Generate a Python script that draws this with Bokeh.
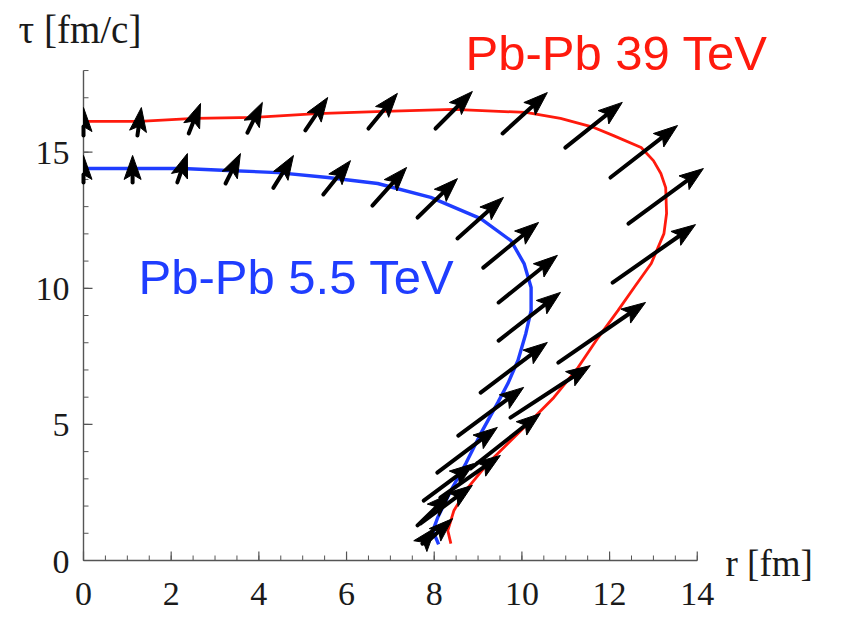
import numpy as np
from bokeh.plotting import figure
from bokeh.models import Range1d, Label
from bokeh.core.properties import value
from bokeh.embed import file_html
from bokeh.resources import INLINE

# ---------------- data ----------------
# freeze-out curves: r [fm], tau [fm/c]
red_r = [0, 1.28, 2.53, 3.90, 5.32, 6.85, 8.45, 10.09, 10.88, 11.64, 12.09, 12.72, 13.0, 13.17,
         13.28, 13.30, 13.24, 12.95, 12.56, 12.19, 11.74, 11.28, 10.73, 10.21, 9.68, 9.22, 8.77,
         8.45, 8.31, 8.38]
red_tau = [16.13, 16.13, 16.24, 16.28, 16.42, 16.50, 16.57, 16.46, 16.24, 15.91, 15.61, 15.17, 14.69,
           14.22, 13.70, 12.75, 12.01, 10.91, 10.03, 9.18, 8.19, 7.09, 5.99, 5.14, 4.30, 3.56, 2.68,
           1.84, 1.10, 0.62]

blue_r = [0, 1.12, 2.26, 3.29, 4.43, 5.57, 6.71, 7.92, 9.06, 9.75, 10.05, 10.21, 10.21, 10.09,
          9.91, 9.68, 9.45, 9.06, 8.72, 8.38, 8.08, 7.97, 8.10]
blue_tau = [14.40, 14.40, 14.40, 14.33, 14.25, 14.07, 13.85, 13.34, 12.56, 11.75, 10.91, 10.03,
            9.18, 8.34, 7.35, 6.50, 5.80, 4.66, 3.56, 2.57, 1.58, 1.10, 0.59]

# flow arrows: tail and tip positions
red_tail_r = [0, 1.23, 2.40, 3.74, 5.06, 6.50, 8.03, 9.56, 10.99, 12.02, 12.43, 12.07, 10.83, 9.74,
              8.83, 8.14, 7.69, 7.80]
red_tail_tau = [15.61, 15.61, 15.69, 15.72, 15.80, 15.87, 15.87, 15.69, 15.17, 14.07, 12.38, 10.21,
                7.27, 5.25, 3.38, 2.31, 1.36, 0.62]
red_tip_r = [0, 1.32, 2.67, 4.08, 5.57, 7.16, 8.87, 10.58, 12.29, 13.55, 14.14, 13.96, 12.82, 11.56,
             10.42, 9.51, 8.87, 8.42]
red_tip_tau = [16.64, 16.64, 16.79, 16.83, 17.01, 17.16, 17.23, 17.19, 16.83, 15.98, 14.40, 12.34,
               9.48, 7.16, 5.40, 3.86, 2.76, 1.54]

blue_tail_r = [0, 1.12, 2.14, 3.24, 4.33, 5.47, 6.59, 7.62, 8.53, 9.12, 9.47, 9.47, 9.06, 8.55,
               8.07, 7.76, 7.62, 7.73]
blue_tail_tau = [13.89, 13.89, 13.89, 13.85, 13.69, 13.45, 13.04, 12.60, 11.83, 10.76, 9.48, 8.08,
                 6.17, 4.59, 3.23, 2.20, 1.29, 0.62]
blue_tip_r = [0, 1.12, 2.37, 3.58, 4.79, 6.09, 7.37, 8.53, 9.58, 10.38, 10.81, 10.88, 10.58, 10.04,
              9.44, 8.90, 8.37, 8.03]
blue_tip_tau = [14.88, 14.88, 14.95, 14.95, 14.88, 14.69, 14.44, 14.03, 13.34, 12.42, 11.21, 9.85,
                8.01, 6.36, 4.89, 3.56, 2.46, 1.21]

x_ticks = [0, 2, 4, 6, 8, 10, 12, 14]
x_minor = [v * 0.5 for v in range(0, 29)]
y_ticks = [0, 5, 10, 15]
y_minor = list(range(0, 19))
x_max, y_max = 14, 18

RED = "#ff1a0d"
BLUE = "#1f3dff"
AXIS = "#555555"
TXT = "#1a1a1a"

# ---------------- figure (frame covers the whole page; axes drawn as glyphs) ----------------
W, H = 855, 620
LEFT, BOTTOM = 83, 60          # pixel position of the origin from left / bottom edge
SX, SY = 43.84, 27.22          # pixels per fm, pixels per fm/c
p = figure(width=W, height=H, output_backend="svg", toolbar_location=None,
           x_range=Range1d(-LEFT / SX, (W - LEFT) / SX),
           y_range=Range1d(-BOTTOM / SY, (H - BOTTOM) / SY),
           x_axis_location=None, y_axis_location=None, min_border=0)
p.outline_line_color = None
p.grid.visible = False
p.background_fill_color = "white"
p.border_fill_color = "white"

# axes
p.segment([0, 0], [0, 0], [x_max, 0], [0, y_max], line_color=AXIS, line_width=1.4)
p.segment(x_ticks, [0] * len(x_ticks), x_ticks, [9 / SY] * len(x_ticks), line_color=AXIS, line_width=1.2)
p.segment(x_minor, [0] * len(x_minor), x_minor, [5 / SY] * len(x_minor), line_color=AXIS, line_width=1.0)
p.segment([0] * len(y_ticks), y_ticks, [9 / SX] * len(y_ticks), y_ticks, line_color=AXIS, line_width=1.2)
p.segment([0] * len(y_minor), y_minor, [5 / SX] * len(y_minor), y_minor, line_color=AXIS, line_width=1.0)

p.text(x=x_ticks, y=[0] * len(x_ticks), text=[str(t) for t in x_ticks],
       text_font=value("Liberation Serif"), text_font_size="34px", text_color=TXT,
       text_align="center", text_baseline="alphabetic", y_offset=33)
p.text(x=[0] * len(y_ticks), y=y_ticks, text=[str(t) for t in y_ticks],
       text_font=value("Liberation Serif"), text_font_size="34px", text_color=TXT,
       text_align="right", text_baseline="alphabetic", x_offset=-14, y_offset=1)

# curves
p.line(red_r, red_tau, line_color=RED, line_width=2.8)
p.line(blue_r, blue_tau, line_color=BLUE, line_width=3.4)

# arrows (shaft + notched head, built in pixel-proportional space, cut at r = 0)
HL, HW, NOTCH = 24.0, 8.5, 5.0


def clip_left(pts):
    out = []
    n = len(pts)
    for i in range(n):
        a, b = pts[i], pts[(i + 1) % n]
        ina, inb = a[0] >= 0, b[0] >= 0
        if ina:
            out.append(a)
        if ina != inb:
            t = a[0] / (a[0] - b[0])
            out.append(a + t * (b - a))
    return out


def arrows(tr, tt, hr, ht):
    x0s, y0s, x1s, y1s, hx, hy = [], [], [], [], [], []
    for a, b, c, d in zip(tr, tt, hr, ht):
        S = np.array([a * SX, b * SY])
        T = np.array([c * SX, d * SY])
        v = T - S
        u = v / np.hypot(*v)
        n = np.array([-u[1], u[0]])
        base = T - (HL - NOTCH) * u
        x0s.append(a); y0s.append(b)
        x1s.append(base[0] / SX); y1s.append(base[1] / SY)
        pts = clip_left([T, T - HL * u + HW * n, base, T - HL * u - HW * n])
        hx.append([q[0] / SX for q in pts])
        hy.append([q[1] / SY for q in pts])
    p.segment(x0s, y0s, x1s, y1s, line_color="black", line_width=4, line_cap="round")
    p.patches(hx, hy, fill_color="black", line_color="black", line_width=1)


arrows(red_tail_r, red_tail_tau, red_tip_r, red_tip_tau)
arrows(blue_tail_r, blue_tail_tau, blue_tip_r, blue_tip_tau)

# texts
p.add_layout(Label(x=-65 / SX, y=531 / SY, text="\u03c4 [fm/c]", text_font="Liberation Serif",
                   text_font_size="39px", text_color=TXT, text_baseline="alphabetic"))
p.add_layout(Label(x=642 / SX, y=-3 / SY, text="r [fm]", text_font="Liberation Serif",
                   text_font_size="37px", text_color=TXT, text_baseline="alphabetic"))
p.add_layout(Label(x=382 / SX, y=508 / SY, text="Pb-Pb 39 TeV", text_font="Liberation Sans",
                   text_font_size="49px", text_color=RED, text_baseline="alphabetic"))
p.add_layout(Label(x=55 / SX, y=284 / SY, text="Pb-Pb 5.5 TeV", text_font="Liberation Sans",
                   text_font_size="49px", text_color=BLUE, text_baseline="alphabetic"))

open("out.html", "w").write(file_html(p, INLINE))
